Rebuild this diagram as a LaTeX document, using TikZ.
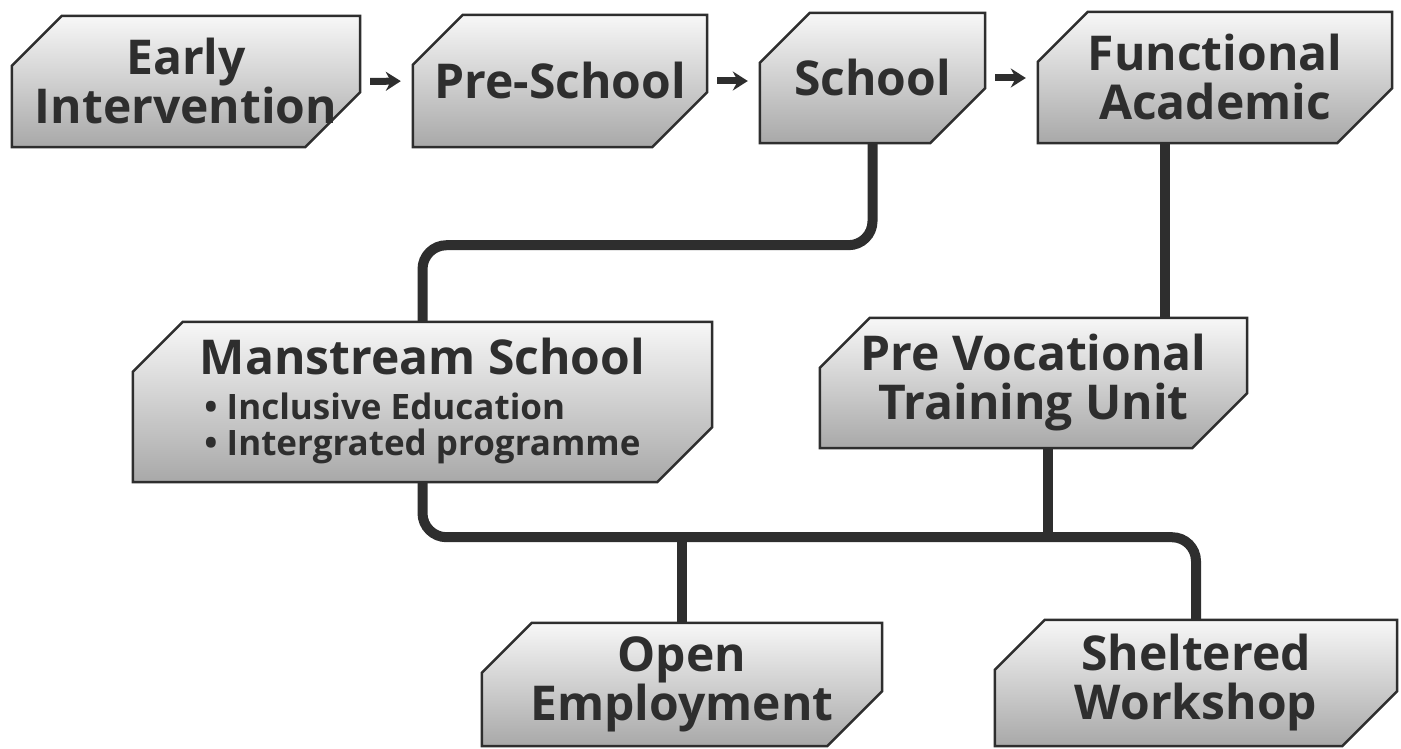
\documentclass[tikz,border=0pt]{standalone}
\usepackage{fontspec}
\setmainfont{Open Sans}
\usetikzlibrary{arrows.meta}
\definecolor{ink}{HTML}{2E2E2E}
\pgfdeclarelayer{bg}
\pgfsetlayers{bg,main}
\newcommand\chamfer[1]{%
  \begin{pgfonlayer}{bg}
    \shadedraw[stagefill] ([xshift=50pt]#1.north west) -- (#1.north east)
      -- ([yshift=55pt]#1.south east) -- ([xshift=-55pt]#1.south east)
      -- (#1.south west) -- ([yshift=-50pt]#1.north west) -- cycle;
  \end{pgfonlayer}}
\tikzset{
  stage/.style={inner sep=0pt, text=ink, align=center,
    font=\bfseries\fontsize{48}{49}\selectfont},
  stagefill/.style={draw=ink, line width=2.5pt, line join=miter,
    top color=black!3, bottom color=black!34},
  link/.style={draw=ink, line width=10pt, rounded corners=24pt},
  flow/.style={draw=ink, line width=7pt,
    -{Stealth[length=15pt,width=19pt,inset=5pt]},
    shorten <=10pt, shorten >=12pt}
}
\begin{document}
\begin{tikzpicture}[x=1pt, y=-1pt]
      \useasboundingbox (0,0) rectangle (1401,749);
      \node[stage, minimum width=348pt, minimum height=131pt] (early) at (186,81.5)
        {Early\\Intervention};
      \node[stage, minimum width=294pt, minimum height=132pt] (pre) at (560,81)
        {Pre-School};
      \node[stage, minimum width=225pt, minimum height=130pt] (school) at (872.5,78)
        {School};
      \node[stage, minimum width=354pt, minimum height=131pt] (func) at (1215,77.5)
        {Functional\\Academic};
      \node[stage, minimum width=579pt, minimum height=160pt] (main) at (422.5,402)
        {Manstream School\\[12pt]
         {\fontsize{35}{33}\selectfont\begin{tabular}{@{}l@{}}
           • Inclusive Education\\
           • Intergrated programme
         \end{tabular}}};
      \node[stage, minimum width=427pt, minimum height=130pt] (prevoc) at (1033.5,383)
        {Pre Vocational\\Training Unit};
      \node[stage, minimum width=400pt, minimum height=123pt] (open) at (682,684.5)
        {Open\\Employment};
      \node[stage, minimum width=402pt, minimum height=126pt] (shelter) at (1196,683)
        {Sheltered\\Workshop};
      \foreach \n in {early,pre,school,func,main,prevoc,open,shelter}
        {\chamfer{\n}}
      \begin{scope}[flow]
        \draw (early.east) to (pre.west);
        \draw (pre.west -| pre.east) to (school.west |- pre.west);
        \draw (school.east) to (func.west |- school.east);
      \end{scope}
      \begin{scope}[link]
        \draw (school.south) -- ++(0,102) -| (main.north);
        \draw ([xshift=-50pt]func.south) -- ([xshift=-50pt]func.south |- prevoc.north);
        \draw (main.south) -- ++(0,55) coordinate (bus) -| (shelter.north);
        \draw ([xshift=14pt]prevoc.south) -- ([xshift=14pt]prevoc.south |- bus);
        \draw (open.north |- bus) -- (open.north);
      \end{scope}
    \end{tikzpicture}
\end{document}
